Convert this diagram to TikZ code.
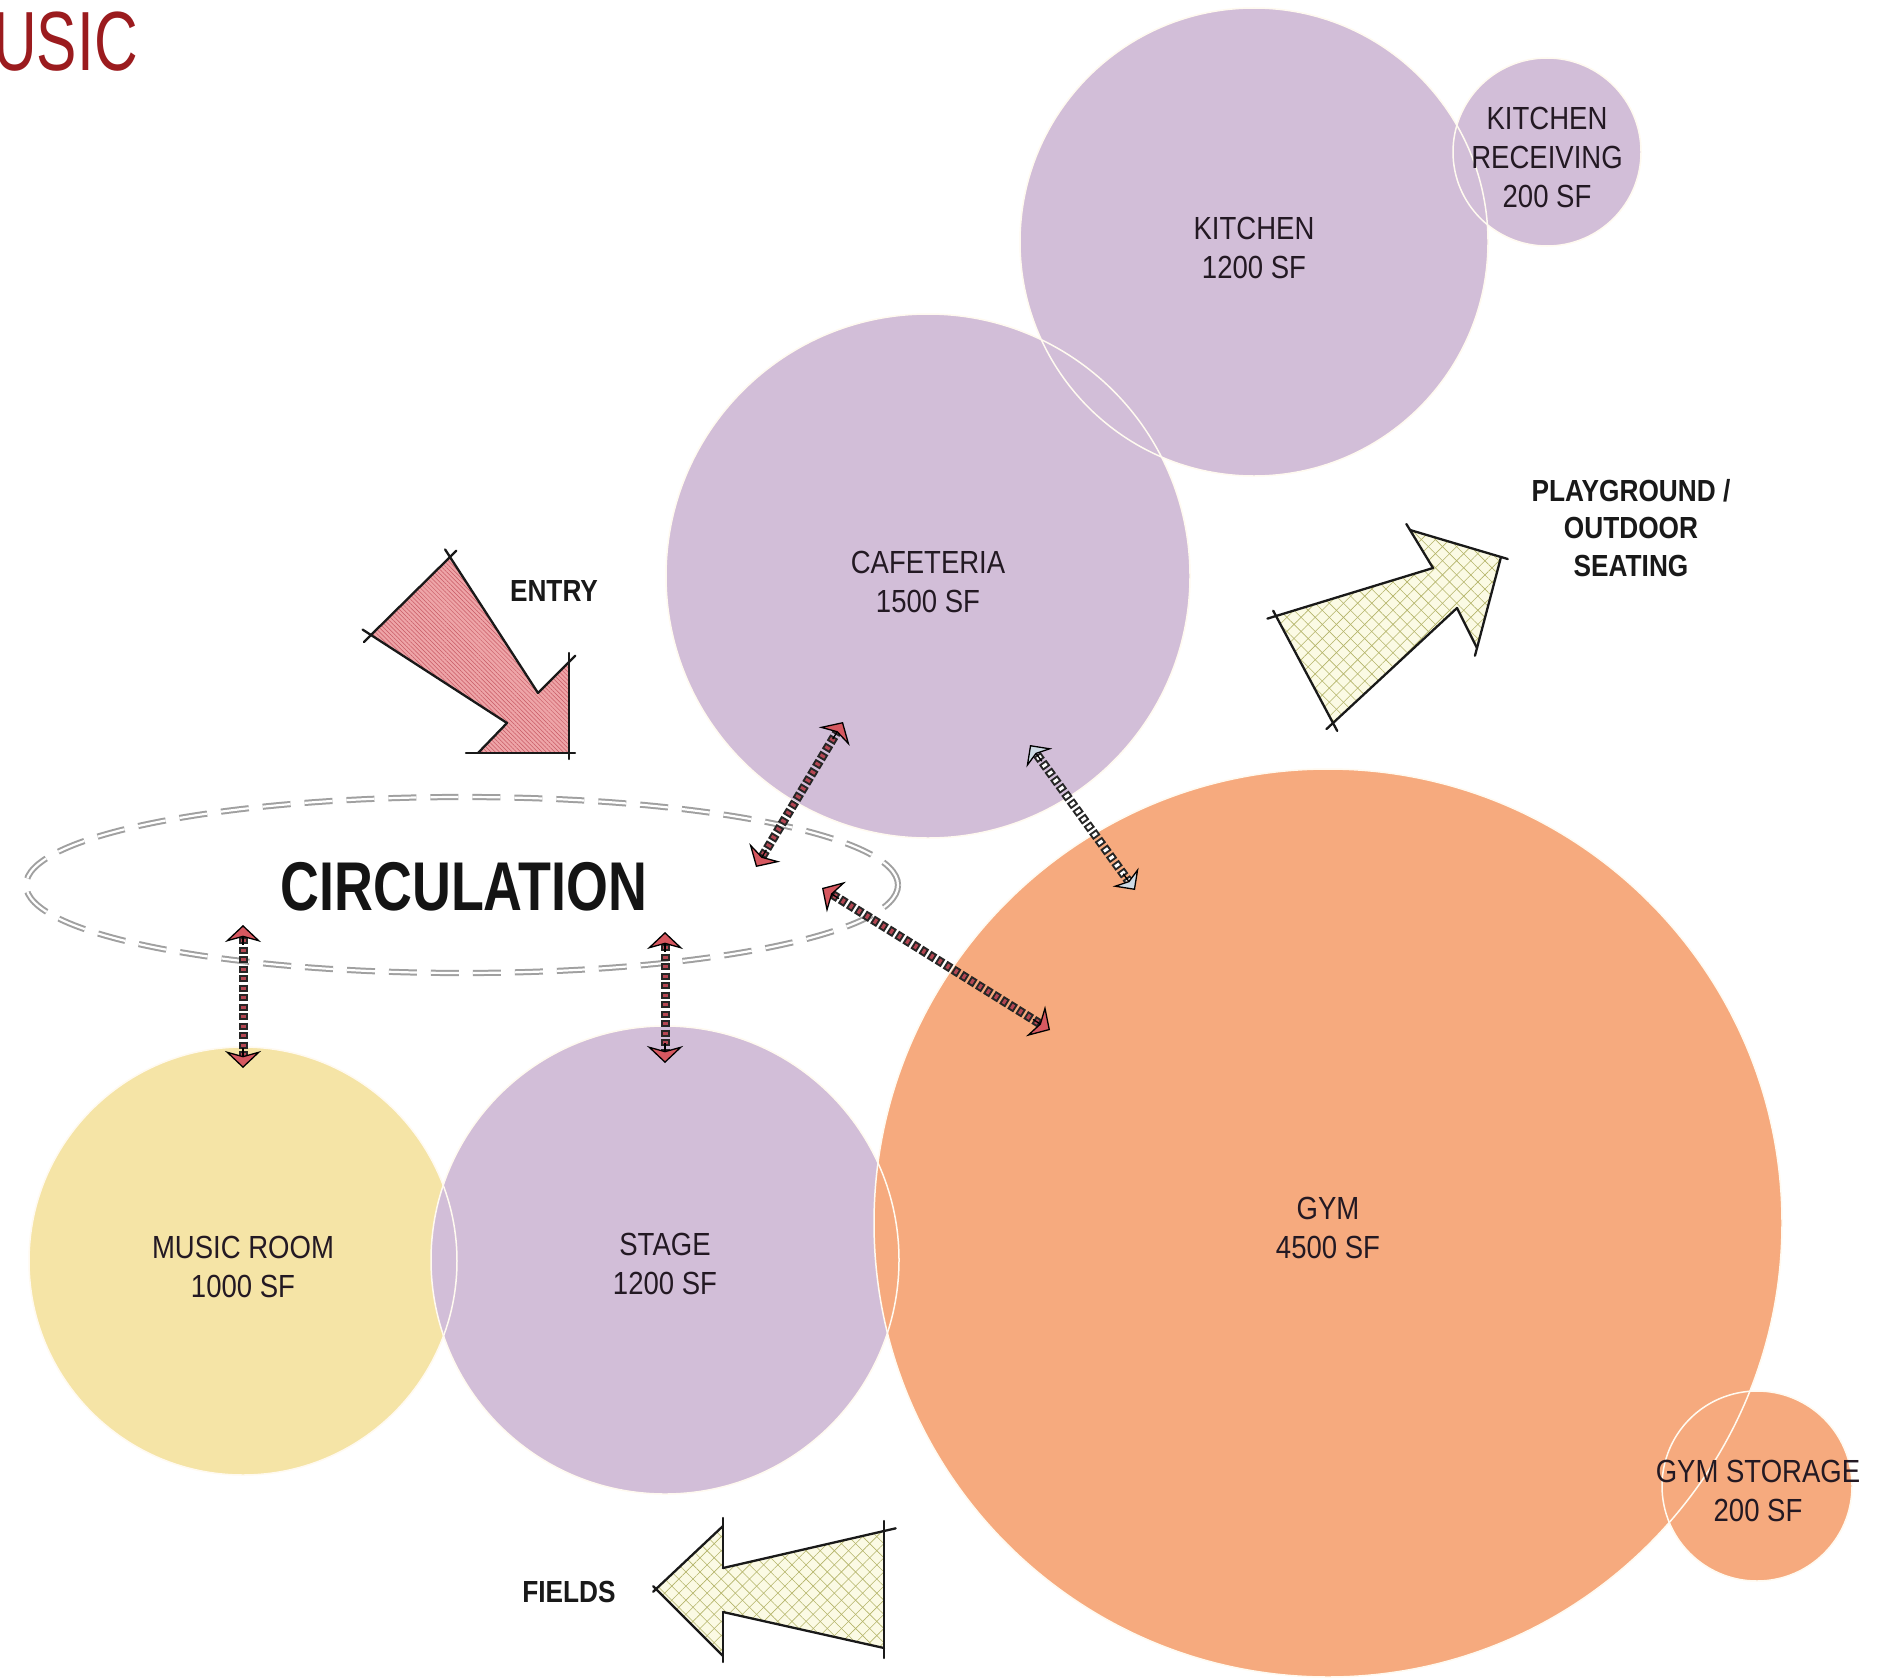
\documentclass[tikz,border=0pt]{standalone}
\usepackage{fontspec}
\usetikzlibrary{calc,arrows.meta,patterns.meta}
\newfontfamily\lblfont[FakeStretch=0.86]{Liberation Sans}
\newfontfamily\circfont[FakeStretch=0.78]{Liberation Sans}
\newfontfamily\usicfont[FakeStretch=0.72]{Liberation Sans}
\definecolor{lilac}{RGB}{210,190,216}
\definecolor{gymorange}{RGB}{246,170,126}
\definecolor{musicyellow}{RGB}{245,228,166}
\definecolor{rimcol}{RGB}{255,250,240}
\definecolor{tipred}{RGB}{214,88,96}
\definecolor{shaftcol}{RGB}{180,70,82}
\definecolor{tipblue}{RGB}{205,218,228}
\definecolor{entrypink}{RGB}{238,165,168}
\definecolor{hatchred}{RGB}{200,90,100}
\definecolor{creamfill}{RGB}{251,250,228}
\definecolor{hatcholive}{RGB}{180,180,105}
\definecolor{usicred}{RGB}{155,27,30}
\definecolor{labeltext}{RGB}{35,25,35}
\definecolor{circgray}{RGB}{160,160,160}
\tikzset{
  room/.style={circle, inner sep=0pt, minimum size=#1, draw=none},
  rimline/.style={draw=rimcol, line width=1.5pt},
  roomlabel/.style={align=center, text=labeltext, inner sep=0pt,
    font=\lblfont\fontsize{32}{39}\selectfont},
  boldlabel/.style={align=center, text=black!90, inner sep=0pt,
    font=\lblfont\bfseries\fontsize{30.5}{37.5}\selectfont},
  circline/.style={draw=circgray, double=white, double distance=2.2pt,
    line width=2pt, dash pattern=on 28pt off 14pt},
  shaftback/.style={line width=9pt, draw=black!85, dash pattern=on 7pt off 2.5pt},
  shaftredin/.style={line width=5pt, draw=shaftcol, dash pattern=on 0pt off 2pt on 3pt off 4.5pt},
  shaftwhitein/.style={line width=5pt, draw=white, dash pattern=on 0pt off 2pt on 3pt off 4.5pt},
  redtip/.style={line width=1.3pt, draw=black, -{Stealth[length=17pt,width=36pt,inset=5pt,fill=tipred]}},
  bluetip/.style={line width=1.3pt, draw=black, -{Stealth[length=16pt,width=32pt,inset=5pt,fill=tipblue]}},
  sketch/.style={line width=2.3pt, draw=black!90, line cap=round},
}
\newcommand\linkarrow[4]{%
  \draw[shaftback, shorten <=12pt, shorten >=12pt] (#1) -- (#2);
  \draw[#3, shorten <=12pt, shorten >=12pt] (#1) -- (#2);
  \draw[#4] ($(#1)!20pt!(#2)$) -- (#1);
  \draw[#4] ($(#2)!20pt!(#1)$) -- (#2);
}
\newcommand\extedge[4]{%
  \draw[sketch] ($(#1)!-#3!(#2)$) -- ($(#2)!-#4!(#1)$);
}
\begin{document}
\begin{tikzpicture}[x=1pt,y=-1pt]
\useasboundingbox (0,0) rectangle (1898,1678);
\fill[white] (0,0) rectangle (1898,1678);

% ---- rooms (fills) ----
\node[room=428pt, fill=musicyellow] (music) at (243,1261) {};
\node[room=468pt, fill=lilac] (stage) at (665,1260) {};
\node[room=908pt, fill=gymorange] (gym) at (1328,1223) {};
\node[room=190pt, fill=gymorange] (storage) at (1757,1486) {};
\node[room=524pt, fill=lilac] (cafeteria) at (928,576) {};
\node[room=468pt, fill=lilac] (kitchen) at (1254,242) {};
\node[room=188pt, fill=lilac] (receiving) at (1547,152) {};

% ---- room rims ----
\draw[rimline] (music.center) circle[radius=214pt];
\draw[rimline] (stage.center) circle[radius=234pt];
\draw[rimline] (gym.center) circle[radius=454pt];
\draw[rimline] (storage.center) circle[radius=95pt];
\draw[rimline] (cafeteria.center) circle[radius=262pt];
\draw[rimline] (kitchen.center) circle[radius=234pt];
\draw[rimline] (receiving.center) circle[radius=94pt];

% ---- room labels ----
\node[roomlabel] (kitchenlbl) at (1254,248) {KITCHEN\\1200 SF};
\node[roomlabel] (receivinglbl) at (1547,157) {KITCHEN\\RECEIVING\\200 SF};
\node[roomlabel] (cafeterialbl) at (928,582) {CAFETERIA\\1500 SF};
\node[roomlabel] (gymlbl) at (1328,1228) {GYM\\4500 SF};
\node[roomlabel] (storagelbl) at (1758,1491) {GYM STORAGE\\200 SF};
\node[roomlabel] (stagelbl) at (665,1264) {STAGE\\1200 SF};
\node[roomlabel] (musiclbl) at (243,1267) {MUSIC ROOM\\1000 SF};

% ---- circulation ----
\coordinate (circcenter) at (462,885);
\draw[circline] (circcenter) ellipse[x radius=436pt, y radius=88pt];
\node[inner sep=0pt, text=black!92, font=\circfont\bfseries\fontsize{69}{69}\selectfont] (circ) at (464,887) {CIRCULATION};

% ---- title fragment ----
\node[anchor=west, inner sep=0pt, text=usicred, font=\usicfont\fontsize{84}{84}\selectfont] (usic) at (-7,42) {USIC};

% ---- entry arrow ----
\coordinate (eT1) at (450,557);
\coordinate (eN1) at (538,693);
\coordinate (eH1) at (569,662);
\coordinate (eTP) at (569,753);
\coordinate (eH2) at (478,753);
\coordinate (eN2) at (507,723);
\coordinate (eT2) at (371,635);
\path[fill=entrypink, postaction={pattern={Lines[angle=-45,distance=3pt,line width=0.5pt]}, pattern color=hatchred}]
  (eT1) -- (eN1) -- (eH1) -- (eTP) -- (eH2) -- (eN2) -- (eT2) -- cycle;
\extedge{eT1}{eN1}{9pt}{0pt}
\extedge{eN1}{eH1}{0pt}{9pt}
\extedge{eH1}{eTP}{9pt}{6pt}
\extedge{eTP}{eH2}{6pt}{12pt}
\extedge{eH2}{eN2}{0pt}{0pt}
\extedge{eN2}{eT2}{0pt}{10pt}
\extedge{eT2}{eT1}{10pt}{9pt}
\node[boldlabel] (entrylbl) at (554,591) {ENTRY};

% ---- playground arrow ----
\coordinate (pTL) at (1276,616);
\coordinate (pN1) at (1433,568);
\coordinate (pH1) at (1410,530);
\coordinate (pTP) at (1501,557);
\coordinate (pH2) at (1477,648);
\coordinate (pN2) at (1457,608);
\coordinate (pBL) at (1333,723);
\path[fill=creamfill,
  postaction={pattern={Lines[angle=45,distance=10pt,line width=0.6pt]}, pattern color=hatcholive},
  postaction={pattern={Lines[angle=-45,distance=10pt,line width=0.6pt]}, pattern color=hatcholive}]
  (pTL) -- (pN1) -- (pH1) -- (pTP) -- (pH2) -- (pN2) -- (pBL) -- cycle;
\extedge{pTL}{pN1}{9pt}{0pt}
\extedge{pN1}{pH1}{0pt}{7pt}
\extedge{pH1}{pTP}{0pt}{7pt}
\extedge{pTP}{pH2}{0pt}{8pt}
\extedge{pH2}{pN2}{0pt}{0pt}
\extedge{pN2}{pBL}{0pt}{9pt}
\extedge{pBL}{pTL}{9pt}{6pt}
\node[boldlabel] (playlbl) at (1631,528) {PLAYGROUND /\\OUTDOOR\\SEATING};

% ---- fields arrow ----
\coordinate (fTP) at (656,1589);
\coordinate (fH1) at (723,1526);
\coordinate (fN1) at (723,1568);
\coordinate (fTR) at (884,1531);
\coordinate (fBR) at (884,1648);
\coordinate (fN2) at (723,1612);
\coordinate (fH2) at (723,1656);
\path[fill=creamfill,
  postaction={pattern={Lines[angle=45,distance=10pt,line width=0.6pt]}, pattern color=hatcholive},
  postaction={pattern={Lines[angle=-45,distance=10pt,line width=0.6pt]}, pattern color=hatcholive}]
  (fTP) -- (fH1) -- (fN1) -- (fTR) -- (fBR) -- (fN2) -- (fH2) -- cycle;
\extedge{fTP}{fH1}{4pt}{0pt}
\extedge{fH1}{fN1}{8pt}{0pt}
\extedge{fN1}{fTR}{0pt}{12pt}
\extedge{fTR}{fBR}{10pt}{10pt}
\extedge{fBR}{fN2}{0pt}{0pt}
\extedge{fN2}{fH2}{0pt}{6pt}
\extedge{fH2}{fTP}{0pt}{4pt}
\node[boldlabel] (fieldslbl) at (569,1592) {FIELDS};

% ---- circulation links ----
\coordinate (l1a) at (756,867);
\coordinate (l1b) at (843,722);
\coordinate (l2a) at (1030,745);
\coordinate (l2b) at (1135,890);
\coordinate (l3a) at (822,888);
\coordinate (l3b) at (1050,1030);
\coordinate (l4a) at (243,925);
\coordinate (l4b) at (243,1068);
\coordinate (l5a) at (665,932);
\coordinate (l5b) at (665,1063);
\linkarrow{l1a}{l1b}{shaftredin}{redtip}
\linkarrow{l2a}{l2b}{shaftwhitein}{bluetip}
\linkarrow{l3a}{l3b}{shaftredin}{redtip}
\linkarrow{l4a}{l4b}{shaftredin}{redtip}
\linkarrow{l5a}{l5b}{shaftredin}{redtip}
\end{tikzpicture}
\end{document}
